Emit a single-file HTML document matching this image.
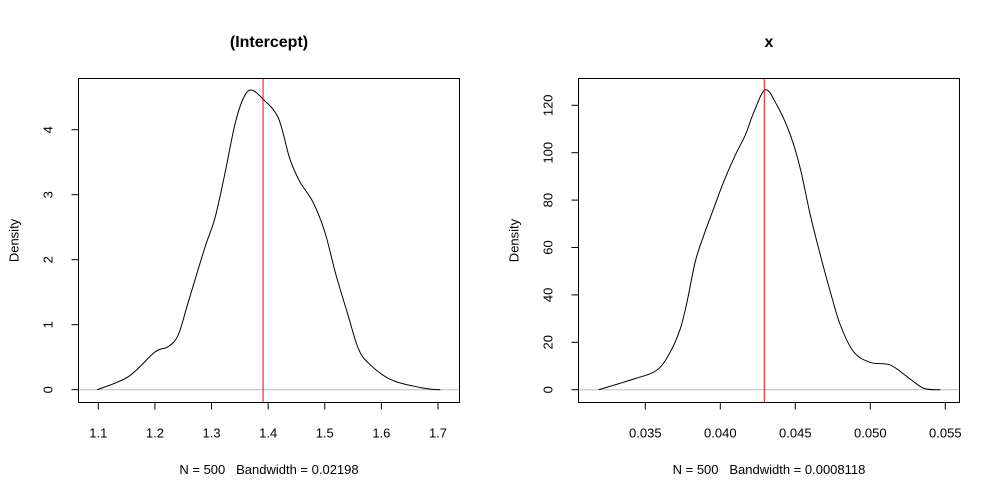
<!DOCTYPE html>
<html><head><meta charset="utf-8"><style>
body{margin:0;background:#fff}
svg{display:block;font-family:"Liberation Sans",Arial,sans-serif}
</style></head><body>
<svg id="c" width="1000" height="500" viewBox="0 0 1000 500"></svg>
<script>
const leftX=[1.098,1.153,1.2,1.223,1.241,1.259,1.288,1.306,1.323,1.341,1.356,1.370,1.391,1.418,1.438,1.456,1.479,1.5,1.52,1.541,1.559,1.577,1.618,1.677,1.704];
const leftY=[0,0.2,0.58,0.66,0.84,1.35,2.18,2.64,3.3,4.07,4.48,4.61,4.47,4.18,3.56,3.2,2.89,2.43,1.76,1.15,0.64,0.41,0.15,0.02,0];
const leftXTicks=[1.1,1.2,1.3,1.4,1.5,1.6,1.7];
const leftYTicks=[0,1,2,3,4];
const leftMean=1.391;
const rightX=[0.03189,0.03423,0.03578,0.03667,0.03733,0.03778,0.03833,0.03889,0.03956,0.04023,0.041,0.04167,0.04223,0.043,0.04378,0.04467,0.04533,0.046,0.04667,0.04733,0.048,0.04889,0.05,0.05133,0.05245,0.05356,0.05467];
const rightY=[0,4.5,8.3,16,25.7,37,54,65,76.5,87.8,99,107.5,117,126.5,120,107.5,93.4,73.7,56.8,41.4,27.3,16,11.5,10.4,5.5,0.6,0];
const rightXTicks=[0.035,0.040,0.045,0.050,0.055];
const rightXLabels=["0.035","0.040","0.045","0.050","0.055"];
const rightYTicks=[0,20,40,60,80,100,120];
const rightMean=0.04293;

const svg=document.getElementById('c');
const NS='http://www.w3.org/2000/svg';
function mk(tag,attrs,parent){const e=document.createElementNS(NS,tag);for(const k in attrs)e.setAttribute(k,attrs[k]);(parent||svg).appendChild(e);return e;}
function smooth(pts){let d='M'+pts[0][0]+','+pts[0][1];for(let i=0;i<pts.length-1;i++){const p0=pts[Math.max(i-1,0)],p1=pts[i],p2=pts[i+1],p3=pts[Math.min(i+2,pts.length-1)];const c1=[p1[0]+(p2[0]-p0[0])/6,p1[1]+(p2[1]-p0[1])/6],c2=[p2[0]-(p3[0]-p1[0])/6,p2[1]-(p3[1]-p1[1])/6];d+=' C'+c1+' '+c2+' '+p2;}return d;}

function panel(o){
  const g=mk('g',{});
  
  
  const sx=v=>o.px0+(v-o.x0)*(o.px1-o.px0)/(o.x1-o.x0);
  const sy=v=>o.py0+(v-o.y0)*(o.py1-o.py0)/(o.y1-o.y0);
  const base=mk('line',{x1:o.L,x2:o.R,y1:sy(0),y2:sy(0),stroke:'#bebebe','stroke-width':1},g);
  
  const pts=o.xs.map((x,i)=>[sx(x),sy(o.ys[i])]);
  const p=mk('path',{d:smooth(pts),fill:'none',stroke:'#000','stroke-width':1},g);
  
  const m=mk('line',{x1:sx(o.mean),x2:sx(o.mean),y1:o.T,y2:o.B,stroke:'#ff0000','stroke-width':1},g);
  
  const box=mk('rect',{x:o.L,y:o.T,width:o.R-o.L,height:o.B-o.T,fill:'none',stroke:'#000','stroke-width':1},g);
  
  mk('line',{x1:sx(o.xt[0]),x2:sx(o.xt[o.xt.length-1]),y1:o.B,y2:o.B,stroke:'#000'},g);
  o.xt.forEach((t,i)=>{
    const tk=mk('line',{x1:sx(t),x2:sx(t),y1:o.B,y2:o.B+7,stroke:'#000'},g);
    
    const tx=mk('text',{x:sx(t),y:o.B+35,'text-anchor':'middle','font-size':13},g);
    tx.textContent=o.xl?o.xl[i]:String(t);
    
  });
  mk('line',{x1:o.L,x2:o.L,y1:sy(o.yt[0]),y2:sy(o.yt[o.yt.length-1]),stroke:'#000'},g);
  o.yt.forEach(t=>{
    const tk=mk('line',{x1:o.L,x2:o.L-7,y1:sy(t),y2:sy(t),stroke:'#000'},g);
    
    const x=o.L-26,y=sy(t);
    const tx=mk('text',{x:x,y:y,'text-anchor':'middle','font-size':13,transform:`rotate(-90 ${x} ${y})`},g);
    tx.textContent=String(t);
    
  });
  const ti=mk('text',{x:(o.L+o.R)/2,y:47,'text-anchor':'middle','font-size':16,'font-weight':'bold'},g);
  ti.textContent=o.title;
  const xl=mk('text',{x:(o.L+o.R)/2,y:474,'text-anchor':'middle','font-size':13},g);
  xl.textContent=o.xlab;
  const yx=o.L-60,yy=(o.T+o.B)/2;
  const yl=mk('text',{x:yx,y:yy,'text-anchor':'middle','font-size':13,transform:`rotate(-90 ${yx} ${yy})`},g);
  yl.textContent='Density';
}
panel({name:'intercept-panel',L:78.5,R:459.5,T:78.5,B:402.5,x0:1.1,x1:1.7,px0:98.3,px1:438,y0:0,y1:4,py0:389.7,py1:129.7,
  xs:leftX,ys:leftY,xt:leftXTicks,yt:leftYTicks,mean:leftMean,title:'(Intercept)',xlab:'N = 500\u00a0\u00a0\u00a0Bandwidth = 0.02198'});
panel({name:'x-panel',L:578.5,R:959.5,T:78.5,B:402.5,x0:0.035,x1:0.055,px0:645.3,px1:945.3,y0:0,y1:120,py0:389.7,py1:105.3,
  xs:rightX,ys:rightY,xt:rightXTicks,xl:rightXLabels,yt:rightYTicks,mean:rightMean,title:'x',xlab:'N = 500\u00a0\u00a0\u00a0Bandwidth = 0.0008118'});
</script>
</body></html>
